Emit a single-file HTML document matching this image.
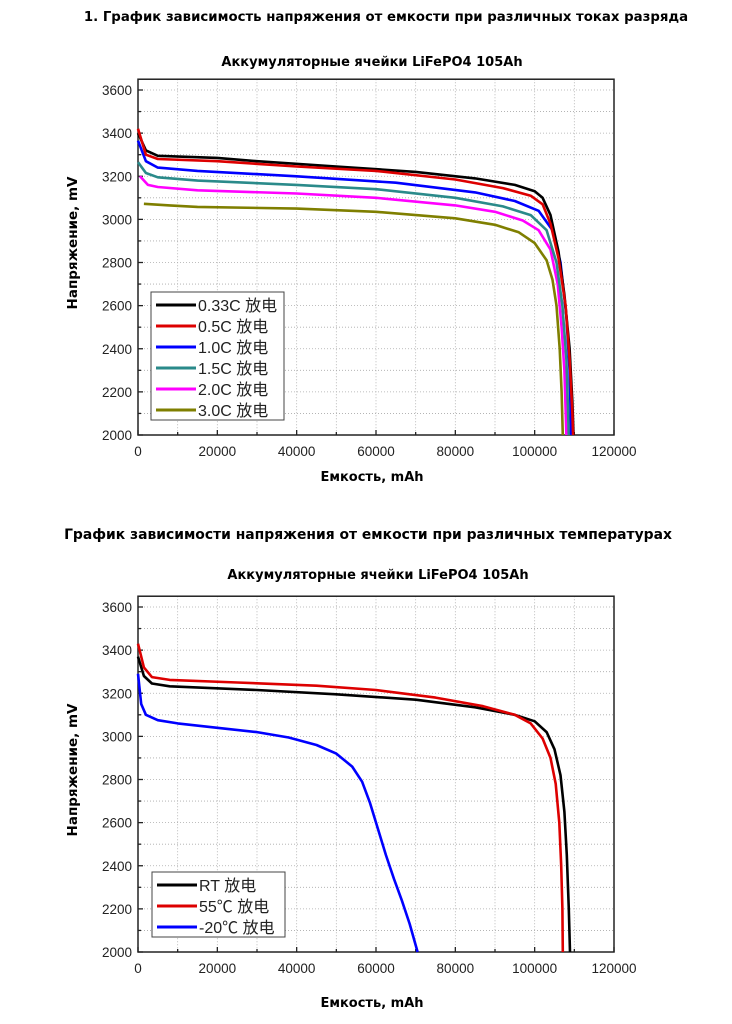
<!DOCTYPE html>
<html><head><meta charset="utf-8"><style>
body{margin:0;background:#fff;width:732px;height:1024px;overflow:hidden}
svg{display:block}
text{font-family:"Liberation Sans","Noto Sans CJK SC",sans-serif}
.t{font-family:"DejaVu Sans","Liberation Sans",sans-serif;font-weight:bold}
</style></head><body>
<svg id="s" width="732" height="1024" xmlns="http://www.w3.org/2000/svg">
<text class="t" x="386" y="21" font-size="13.3" text-anchor="middle">1. График зависимость напряжения от емкости при различных токах разряда</text>
<text class="t" x="372" y="66" font-size="13" text-anchor="middle">Аккумуляторные ячейки LiFePO4 105Ah</text>
<text class="t" x="372" y="481" font-size="13" text-anchor="middle">Емкость, mAh</text>
<text class="t" x="368" y="539" font-size="13.9" text-anchor="middle">График зависимости напряжения от емкости при различных температурах</text>
<text class="t" x="378" y="579" font-size="13" text-anchor="middle">Аккумуляторные ячейки LiFePO4 105Ah</text>
<text class="t" x="372" y="1007" font-size="13" text-anchor="middle">Емкость, mAh</text>
<text class="t" transform="translate(77,243) rotate(-90)" font-size="13.5" text-anchor="middle">Напряжение, mV</text>
<text class="t" transform="translate(77,770) rotate(-90)" font-size="13.5" text-anchor="middle">Напряжение, mV</text>
<g id="g"></g>
</svg>
<script>
var NS="http://www.w3.org/2000/svg",g=document.getElementById("g");
function el(t,a,txt){var e=document.createElementNS(NS,t);for(var k in a)e.setAttribute(k,a[k]);if(txt!=null)e.textContent=txt;g.appendChild(e);return e;}
function chart(top3600,series,legend,lx,ly){
 var x0=138,x1=614,y2000=top3600+345,k=345/1600;
 var X=function(c){return x0+c*(x1-x0)/120000},Y=function(v){return y2000-(v-2000)*k};
 var ytop=Y(3650);
 for(var c=10000;c<120000;c+=10000)el("line",{x1:X(c),x2:X(c),y1:ytop,y2:y2000,stroke:"#aaa","stroke-width":0.8,"stroke-dasharray":"1,2"});
 for(var v=2100;v<3650;v+=100)el("line",{x1:x0,x2:x1,y1:Y(v),y2:Y(v),stroke:"#aaa","stroke-width":0.8,"stroke-dasharray":"1,2"});
 el("rect",{x:x0,y:ytop,width:x1-x0,height:y2000-ytop,fill:"none",stroke:"#222","stroke-width":1.5});
 for(var v=2000;v<=3600;v+=100){el("line",{x1:x0,x2:x0+(v%200?3:5),y1:Y(v),y2:Y(v),stroke:"#222","stroke-width":1.3});
  if(v%200==0)el("text",{x:x0-6,y:Y(v)+5,"font-size":13.5,"text-anchor":"end",fill:"#222"},v);}
 for(var c=0;c<=120000;c+=10000){el("line",{x1:X(c),x2:X(c),y1:y2000,y2:y2000-(c%20000?3:5),stroke:"#222","stroke-width":1.3});
  if(c%20000==0)el("text",{x:X(c),y:y2000+21,"font-size":13.5,"text-anchor":"middle",fill:"#222"},c);}
 series.forEach(function(s){var p=s[1].map(function(q){return X(q[0]).toFixed(1)+","+Y(q[1]).toFixed(1)}).join(" ");
  el("polyline",{points:p,fill:"none",stroke:s[0],"stroke-width":2.6,"stroke-linejoin":"round"});});
 var h=legend.length*21+2;
 el("rect",{x:lx,y:ly,width:133,height:h,fill:"#fff",stroke:"#444","stroke-width":1});
 legend.forEach(function(L,i){var yy=ly+13+i*21;el("line",{x1:lx+5,x2:lx+45,y1:yy,y2:yy,stroke:L[0],"stroke-width":3});
  el("text",{x:lx+47,y:yy+6,"font-size":16,fill:"#222"},L[1]);});
}
chart(90,[
["#7f7f00",[[1500,3072],[8000,3065],[15000,3058],[40000,3050],[60000,3035],[80000,3005],[90000,2975],[96000,2940],[100000,2890],[103000,2810],[104500,2720],[105500,2600],[106300,2400],[106800,2200],[107100,2000]]],
["#ff00ff",[[500,3200],[2500,3160],[5000,3150],[15000,3135],[40000,3120],[60000,3100],[80000,3065],[90000,3035],[97000,2995],[101000,2950],[104000,2860],[105800,2700],[106800,2500],[107500,2300],[108000,2000]]],
["#2a8a8a",[[0,3265],[2000,3215],[5000,3195],[15000,3180],[40000,3160],[60000,3140],[80000,3100],[92000,3060],[99000,3020],[103000,2950],[105500,2800],[107000,2600],[108000,2350],[108600,2000]]],
["#0000ff",[[0,3365],[2000,3270],[5000,3240],[15000,3225],[40000,3200],[65000,3170],[85000,3125],[95000,3085],[101000,3040],[104500,2950],[106500,2800],[108000,2550],[108800,2300],[109200,2000]]],
["#000",[[0,3400],[2000,3320],[5000,3295],[20000,3285],[30000,3270],[50000,3245],[70000,3220],[85000,3190],[95000,3160],[100000,3130],[102000,3100],[104000,3020],[106000,2850],[107500,2650],[108800,2400],[109500,2150],[109800,2000]]],
["#dd0000",[[0,3420],[2000,3300],[5000,3280],[20000,3270],[40000,3245],[60000,3225],[80000,3185],[92000,3145],[99000,3110],[102000,3070],[104000,2980],[106000,2820],[107800,2600],[108800,2350],[109500,2100],[109700,2000]]]
],[["#000","0.33C 放电"],["#dd0000","0.5C 放电"],["#0000ff","1.0C 放电"],["#2a8a8a","1.5C 放电"],["#ff00ff","2.0C 放电"],["#7f7f00","3.0C 放电"]],151,292);
chart(607,[
["#0000ff",[[0,3290],[800,3150],[2000,3100],[5000,3075],[10000,3060],[20000,3040],[30000,3020],[38000,2995],[45000,2960],[50000,2920],[54000,2860],[56500,2790],[58500,2690],[60500,2570],[62500,2450],[64500,2340],[66500,2240],[68500,2130],[70500,2000]]],
["#000",[[0,3370],[1500,3280],[3500,3245],[8000,3232],[30000,3215],[50000,3195],[70000,3170],[85000,3135],[95000,3100],[100000,3070],[103000,3020],[105000,2940],[106500,2820],[107500,2650],[108100,2450],[108600,2200],[108900,2000]]],
["#dd0000",[[0,3430],[1500,3320],[3500,3275],[8000,3262],[25000,3250],[45000,3235],[60000,3215],[75000,3180],[87000,3140],[95000,3100],[99000,3060],[102000,2990],[104000,2900],[105300,2780],[106200,2600],[106700,2400],[107000,2200],[107100,2000]]]
],[["#000","RT 放电"],["#dd0000","55℃ 放电"],["#0000ff","-20℃ 放电"]],152,872);
</script>
</body></html>
